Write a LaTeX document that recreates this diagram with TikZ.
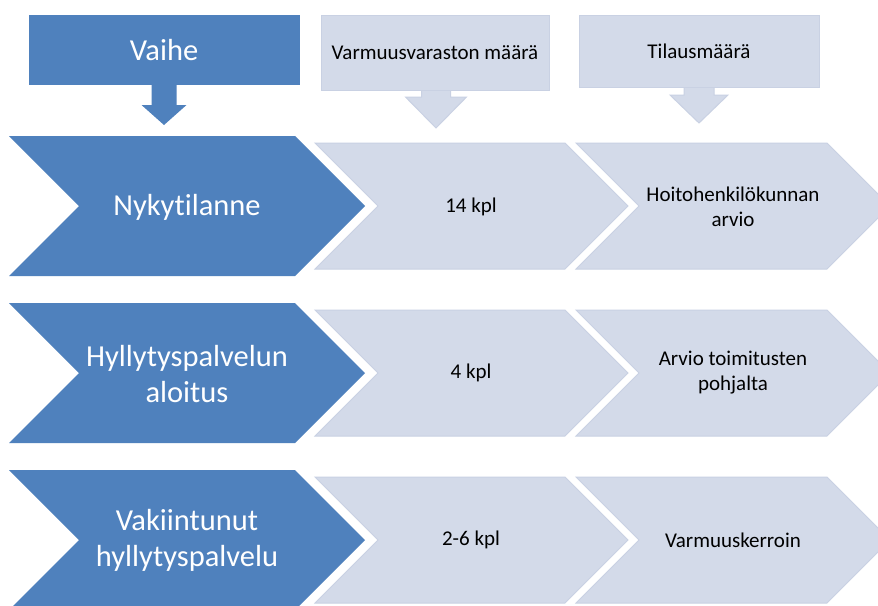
\documentclass[tikz,border=0pt]{standalone}
\usepackage{fontspec}
\setmainfont{Carlito}[Ligatures={NoCommon,NoRequired,NoContextual}]
\definecolor{darkblue}{RGB}{79,129,189}
\definecolor{lightblue}{RGB}{211,218,233}
\definecolor{lightedge}{RGB}{201,209,227}
\newcommand{\mychev}[5]{% style, left, top, topright, halfheight
  \path[#1] (#2,#3) -- (#4,#3) -- ({#4+#5},{#3+#5}) -- (#4,{#3+2*#5}) -- (#2,{#3+2*#5}) -- ({#2+#5},{#3+#5}) -- cycle;}
\newcommand{\mydarrow}[7]{% style, cx, stemtop, stemhalf, basey, headhalf, tipy
  \path[#1] ({#2-#4},#3) -- ({#2+#4},#3) -- ({#2+#4},#5) -- ({#2+#6},#5) -- (#2,#7) -- ({#2-#6},#5) -- ({#2-#4},#5) -- cycle;}
\tikzset{
  darkshape/.style={fill=darkblue},
  lightshape/.style={fill=lightblue, draw=lightedge, line width=1pt, line join=miter},
  darktext/.style={text=white, font=\fontsize{30.5}{36}\selectfont, align=center, inner sep=0pt},
  lighttext/.style={text=black, font=\fontsize{21}{25}\selectfont, align=center, inner sep=0pt},
}
\begin{document}
\begin{tikzpicture}[x=1pt, y=-1pt]
\clip (0,0) rectangle (878,605);
\fill[white] (0,0) rectangle (878,605);
% header down arrows
\mydarrow{darkshape}{164}{80}{12.5}{105}{22.5}{125}
\mydarrow{lightshape}{436}{85}{14.5}{97}{30.5}{128}
\mydarrow{lightshape}{699}{82}{15}{95}{29}{123}
% header boxes
\fill[darkblue] (29,15) rectangle (300,85);
\path[lightshape] (321,15) rectangle (549,90);
\path[lightshape] (579,15) rectangle (819,87);
\node[darktext] (vaihe) at (164,50) {Vaihe};
\node[lighttext] (varm) at (435,52.5) {Varmuusvaraston määrä};
\node[lighttext] (tilaus) at (699,51) {Tilausmäärä};
% row 1
\mychev{darkshape}{9}{136}{295}{70}
\mychev{lightshape}{315}{143}{565}{63}
\mychev{lightshape}{576}{143}{827}{63}
\node[darktext] (r1a) at (187,207) {Nykytilanne};
\node[lighttext] (r1b) at (471,207) {14 kpl};
\node[lighttext] (r1c) at (733,207) {Hoitohenkilökunnan\\arvio};
% row 2
\mychev{darkshape}{9}{303}{295}{70}
\mychev{lightshape}{315}{310}{565}{63}
\mychev{lightshape}{576}{310}{827}{63}
\node[darktext] (r2a) at (187,374) {Hyllytyspalvelun\\aloitus};
\node[lighttext] (r2b) at (471,373) {4 kpl};
\node[lighttext] (r2c) at (733,373) {Arvio toimitusten\\pohjalta};
% row 3
\mychev{darkshape}{9}{470}{295}{70}
\mychev{lightshape}{315}{477}{565}{63}
\mychev{lightshape}{576}{477}{827}{63}
\node[darktext] (r3a) at (187,540) {Vakiintunut\\hyllytyspalvelu};
\node[lighttext] (r3b) at (471,540) {2-6 kpl};
\node[lighttext] (r3c) at (733,540) {Varmuuskerroin};
\end{tikzpicture}
\end{document}
